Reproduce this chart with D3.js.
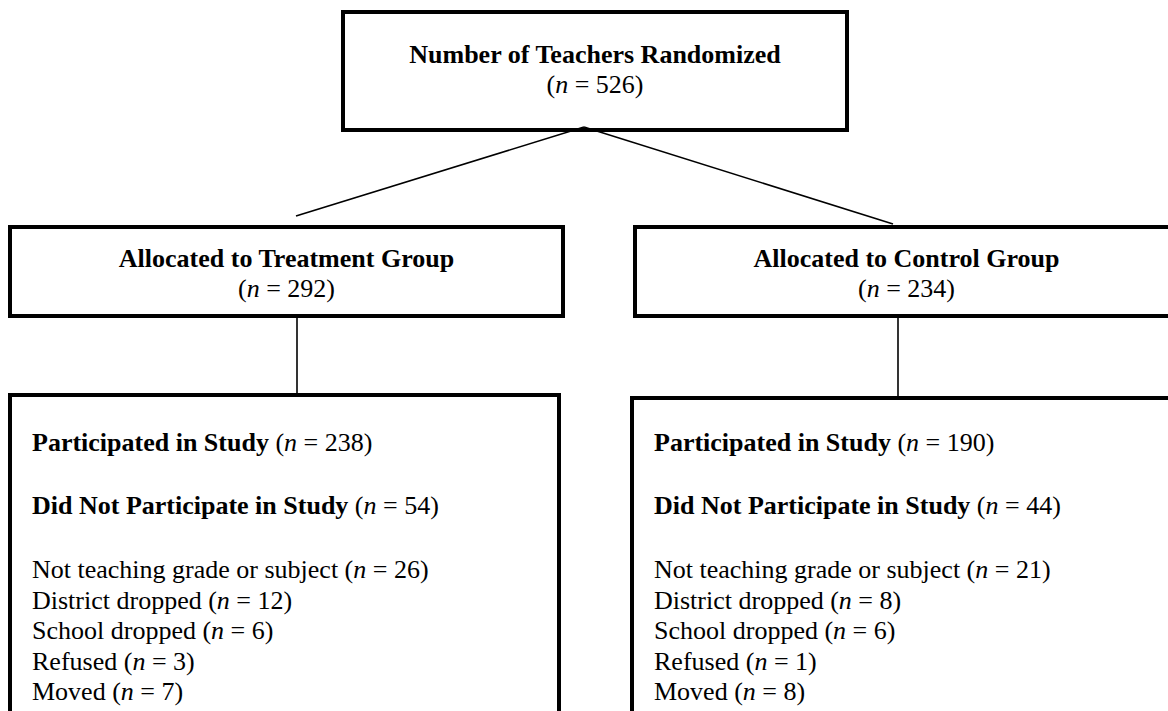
<!DOCTYPE html>
<html>
<head>
<meta charset="utf-8">
<script src="https://cdn.jsdelivr.net/npm/d3@7"></script>
<style>
  body { margin: 0; background: #fff; }
  text { font-family: "Liberation Serif", "Times New Roman", serif; font-size: 26px; fill: #000; }
  .bold { font-weight: bold; }
</style>
</head>
<body>
<div class="chart"></div>
<script>
// flow chart data
var rootLabel = "Number of Teachers Randomized";
var rootN = 526;

var groups = ["Treatment", "Control"];
var allocLabels = ["Allocated to Treatment Group", "Allocated to Control Group"];
var allocN = [292, 234];
var participatedN = [238, 190];
var notParticipatedN = [54, 44];

var reasons = ["Not teaching grade or subject", "District dropped", "School dropped", "Refused", "Moved"];
var treatmentReasonN = [26, 12, 6, 3, 7];
var controlReasonN = [21, 8, 6, 1, 8];
var reasonN = [treatmentReasonN, controlReasonN];

var svgWidth = 1168;
var svgHeight = 711;

var svg = d3.select(".chart")
  .append("svg")
  .attr("width", svgWidth)
  .attr("height", svgHeight);

// layout (box outer positions, by eye)
var rootBox = { x: 341, y: 10, w: 508, h: 122 };
var allocBox = [
  { x: 8, y: 225, w: 557, h: 93 },
  { x: 633, y: 225, w: 547, h: 93 }
];
var outBox = [
  { x: 8, y: 393, w: 553, h: 420 },
  { x: 630, y: 396, w: 562, h: 420 }
];
var apex = [584, 127];
var diagEnd = [[296, 216], [893, 224]];
var connX = [297, 898];

var sw = 4;

function box(b) {
  svg.append("rect")
    .attr("x", b.x + sw / 2)
    .attr("y", b.y + sw / 2)
    .attr("width", b.w - sw)
    .attr("height", b.h - sw)
    .attr("fill", "none")
    .attr("stroke", "#000")
    .attr("stroke-width", sw);
}

// (n = value) with italic n
function nText(sel, v) {
  sel.append("tspan").text("(");
  sel.append("tspan").attr("font-style", "italic").text("n");
  sel.append("tspan").text(" = " + v + ")");
}

// connectors
diagEnd.forEach(function(e) {
  svg.append("line")
    .attr("x1", apex[0]).attr("y1", apex[1])
    .attr("x2", e[0]).attr("y2", e[1])
    .attr("stroke", "#000")
    .attr("stroke-width", 1.6);
});
groups.forEach(function(g, i) {
  svg.append("line")
    .attr("x1", connX[i]).attr("y1", allocBox[i].y + allocBox[i].h)
    .attr("x2", connX[i]).attr("y2", outBox[i].y)
    .attr("stroke", "#000")
    .attr("stroke-width", 1.6);
});

// top box
box(rootBox);
var cx = rootBox.x + rootBox.w / 2;
svg.append("text")
  .attr("class", "bold")
  .attr("x", cx).attr("y", 63)
  .attr("text-anchor", "middle")
  .text(rootLabel);
svg.append("text")
  .attr("x", cx).attr("y", 93)
  .attr("text-anchor", "middle")
  .call(nText, rootN);

// allocation boxes
groups.forEach(function(g, i) {
  var b = allocBox[i];
  box(b);
  var mx = b.x + b.w / 2;
  svg.append("text")
    .attr("class", "bold")
    .attr("x", mx).attr("y", b.y + 42)
    .attr("text-anchor", "middle")
    .text(allocLabels[i]);
  svg.append("text")
    .attr("x", mx).attr("y", b.y + 72)
    .attr("text-anchor", "middle")
    .call(nText, allocN[i]);
});

// outcome boxes
groups.forEach(function(g, i) {
  var b = outBox[i];
  box(b);
  var tx = b.x + 24;
  var y0 = 393;

  var t1 = svg.append("text").attr("x", tx).attr("y", y0 + 58);
  t1.append("tspan").attr("class", "bold").text("Participated in Study ");
  nText(t1, participatedN[i]);

  var t2 = svg.append("text").attr("x", tx).attr("y", y0 + 121);
  t2.append("tspan").attr("class", "bold").text("Did Not Participate in Study ");
  nText(t2, notParticipatedN[i]);

  reasons.forEach(function(r, j) {
    var t = svg.append("text")
      .attr("x", tx)
      .attr("y", y0 + 185 + j * 30.5);
    t.append("tspan").text(r + " ");
    nText(t, reasonN[i][j]);
  });
});
</script>
</body>
</html>
